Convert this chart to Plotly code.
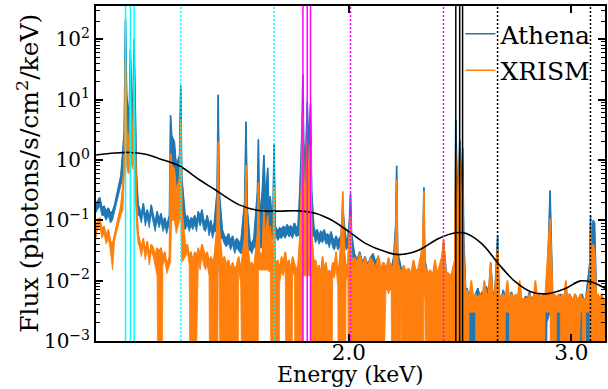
import numpy as np
import plotly.graph_objects as go

# ---------------- data ----------------
energy_keV = [
    1.260, 1.265, 1.270, 1.275, 1.280, 1.285, 1.290, 1.295, 1.300, 1.305, 1.310, 1.315, 1.320,
    1.325, 1.328, 1.331, 1.334, 1.337, 1.340, 1.343, 1.346, 1.349, 1.352, 1.355, 1.358, 1.362,
    1.365, 1.370, 1.375, 1.380, 1.385, 1.390, 1.395, 1.400, 1.405, 1.410, 1.415, 1.420, 1.425, 1.430, 1.435, 1.442,
    1.445, 1.448, 1.455, 1.460, 1.469, 1.472, 1.475, 1.485, 1.490, 1.495, 1.500,
    1.505, 1.510, 1.515, 1.520, 1.525, 1.530, 1.535, 1.540, 1.545, 1.550,
    1.555, 1.560, 1.565, 1.573, 1.576, 1.579, 1.588, 1.594, 1.600, 1.606,
    1.612, 1.618, 1.624, 1.630, 1.636, 1.642, 1.654, 1.658, 1.662, 1.670,
    1.676, 1.682, 1.693, 1.696, 1.699, 1.708, 1.713, 1.718, 1.725, 1.729,
    1.733, 1.741, 1.745, 1.749, 1.757, 1.763, 1.769, 1.775, 1.781, 1.787,
    1.793, 1.799, 1.805, 1.811, 1.817, 1.823, 1.829, 1.836, 1.839, 1.842,
    1.848, 1.854, 1.858, 1.865, 1.869, 1.876, 1.882, 1.888, 1.894, 1.900,
    1.906, 1.912, 1.918, 1.924, 1.930, 1.936, 1.942, 1.948, 1.954, 1.960,
    1.966, 1.972, 1.978, 1.984, 1.990, 1.996, 2.002, 2.006, 2.010,
    2.02, 2.03, 2.04, 2.05, 2.06, 2.07, 2.08, 2.09, 2.10, 2.11,
    2.12, 2.13, 2.14, 2.15, 2.16, 2.17, 2.178, 2.182, 2.186, 2.20,
    2.21, 2.22, 2.23, 2.24, 2.25, 2.26, 2.27, 2.289, 2.293, 2.297,
    2.31, 2.32, 2.33, 2.34, 2.35, 2.36, 2.37, 2.377, 2.385, 2.39,
    2.40, 2.41, 2.426, 2.430, 2.436, 2.442, 2.448, 2.454, 2.461, 2.466,
    2.475, 2.48, 2.49, 2.50, 2.51, 2.52, 2.53, 2.54, 2.55, 2.56,
    2.57, 2.58, 2.59, 2.60, 2.61, 2.623, 2.63, 2.64, 2.65, 2.66,
    2.67, 2.68, 2.69, 2.70, 2.71, 2.72, 2.73, 2.74, 2.75, 2.76,
    2.77, 2.78, 2.79, 2.80, 2.81, 2.82, 2.83, 2.84, 2.85, 2.86,
    2.87, 2.886, 2.90, 2.91, 2.92, 2.93, 2.94, 2.95, 2.96, 2.97,
    2.98, 2.99, 3.00, 3.01, 3.02, 3.03, 3.04, 3.05, 3.06, 3.07,
    3.08, 3.103, 3.107, 3.111, 3.122, 3.13, 3.14, 3.15, 3.16, 3.17,
    3.18, 3.19,
]

# Athena: upper / lower envelope of the (densely channelled) spectrum
athena_high = [
    .18, .21, .24, .16, .17, .14, .16, .13, .14, .18, .27, .38, .55,
    1.5, 3, 214, 12, 7, 4, 66, 9, 5, 100, 8, .6, .18,
    .16, .12, .19, .11, .15, .10, .18, .12, .09, .14, .10, .13, .09, .11, .08, .12,
    5.5, 2.5, 2, .8, 1.2, 17, .5, .10, .12, .09, .11,
    .10, .12, .09, .14, .11, .15, .10, .09, .12, .08,
    .10, .07, .09, .3, 12, .3, .07, .055, .05, .06,
    .045, .055, .04, .05, .045, .04, .2, 4.3, .15, .045,
    .04, .05, .3, 2.2, .1, .3, 1.2, .2, .74, .1,
    .25, .07, 1.8, .08, .065, .075, .07, .08, .07, .085,
    .075, .08, .07, .09, .075, .08, .3, 3, 26, 2,
    .8, 9.2, 1.5, 8.5, .3, .08, .06, .07, .055, .065,
    .06, .07, .055, .06, .05, .065, .05, .045, .055, .045,
    .05, .055, .15, .07, .045, .05, .1, .28, .06,
    .028, .022, .03, .02, .025, .018, .024, .028, .02, .025,
    .012, .02, .016, .022, .015, .024, .08, .8, .03, .016,
    .014, .011, .015, .012, .014, .01, .013, .03, .35, .022,
    .012, .014, .011, .015, .012, .016, .022, .045, .015, .011,
    .012, .01, .018, 4.6, .5, .3, 2.1, .3, 1.58, .05,
    .0065, .0075, .0055, .0065, .005, .006, .0075, .0055, .0065, .0055,
    .008, .0055, .02, .006, .0065, .056, .0055, .005, .007, .005,
    .0055, .005, .0065, .005, .0055, .0045, .006, .005, .0045, .0055,
    .005, .0065, .0045, .0055, .005, .0045, .0055, .005, .006, .005,
    .006, .31, .005, .0055, .0045, .005, .006, .0045, .0055, .005,
    .0045, .006, .005, .0045, .006, .005, .0045, .005, .006, .0045,
    .005, .02, .12, .03, .1, .09, .006, .005, .0045, .005,
    .0045, .005,
]
athena_low = [
    .13, .15, .17, .12, .12, .10, .12, .09, .10, .13, .19, .27, .38,
    .5, 1.5, 3, 2, 1.5, 1.5, 3, 2, 2, 3, 1, .2, .12,
    .12, .09, .14, .08, .11, .075, .13, .09, .065, .10, .075, .095, .065, .08, .06, .09,
    .1, .3, .3, .2, .3, .3, .08, .07, .085, .065, .08,
    .07, .085, .065, .10, .08, .10, .07, .065, .085, .055,
    .07, .05, .065, .065, .065, .05, .05, .04, .036, .042,
    .032, .04, .028, .035, .032, .028, .03, .03, .03, .032,
    .028, .035, .035, .035, .035, .035, .035, .035, .035, .035,
    .04, .05, .05, .056, .046, .052, .05, .056, .05, .06,
    .053, .056, .05, .063, .053, .056, .056, .056, .056, .056,
    .05, .05, .05, .05, .05, .056, .042, .05, .04, .046,
    .042, .05, .04, .042, .035, .046, .035, .032, .04, .032,
    .035, .04, .04, .045, .032, .035, .035, .035, .035,
    .012, .01, .014, .008, .011, .007, .01, .012, .008, .011,
    .0045, .009, .007, .01, .007, .01, .01, .012, .009, .008,
    .006, .005, .007, .006, .006, .005, .006, .007, .008, .007,
    .005, .006, .005, .007, .005, .006, .007, .009, .006, .005,
    .005, .003, .006, .006, .006, .006, .006, .006, .006, .005,
    .002, .003, 0, .002, 0, .002, .003, .002, .002, .002,
    .003, .002, .002, .002, .002, .003, .002, .002, .002, 0,
    0, .002, .002, .002, .002, .0015, .002, .002, 0, .002,
    .002, .002, .0015, .002, .002, 0, .002, .002, .002, 0,
    .002, .003, .002, .002, 0, .002, 0, .002, .002, .002,
    .0015, .002, .002, .0015, .002, .002, 0, .002, 0, .002,
    .002, 0, .003, .002, .003, .003, .002, .002, 0, .002,
    .002, .002,
]

# XRISM: upper / lower envelope (0 = empty channels, drawn below the axis)
xrism_high = [
    .06, .10, .11, .07, .08, .055, .07, .045, .04, .06, .09, .12, .17,
    .4, 1, 45, 3, 2.5, 1.5, 21, 3, 2, 21, 2, .2, .06,
    .05, .035, .05, .03, .045, .025, .04, .035, .025, .035, .03, .035, .025, .03, .018, .025,
    1.3, .8, .7, .3, .5, 4.3, .15, .035, .04, .025, .03,
    .02, .03, .025, .035, .025, .04, .03, .025, .03, .02,
    .025, .02, .025, .08, 2.0, .08, .02, .025, .018, .022,
    .015, .02, .015, .018, .025, .015, .05, .82, .04, .018,
    .02, .015, .06, .42, .03, .025, .15, .04, .12, .025,
    .08, .02, .35, .018, .022, .015, .025, .02, .03, .018,
    .022, .015, .025, .02, .015, .018, .05, .6, 5.9, .5,
    .2, 2.1, .4, 1.8, .06, .02, .022, .015, .018, .012,
    .025, .015, .02, .012, .015, .012, .02, .018, .03, .012,
    .02, .05, .3, .03, .015, .02, .05, .12, .02,
    .024, .02, .028, .018, .024, .016, .024, .02, .016, .026,
    .016, .02, .015, .024, .016, .018, .05, .46, .02, .013,
    .018, .014, .016, .013, .022, .014, .016, .04, .3, .018,
    .013, .015, .012, .022, .013, .018, .025, .047, .015, .014,
    .013, .012, .022, 1.5, .2, .15, 1.1, .1, .52, .02,
    .006, .007, .005, .01, .005, .006, .005, .006, .005, .01,
    .006, .006, .02, .005, .006, .036, .006, .005, .006, .005,
    .01, .005, .006, .005, .006, .005, .01, .005, .005, .005,
    .005, .006, .005, .005, .01, .005, .006, .005, .006, .005,
    .015, .107, .005, .006, .005, .006, .005, .006, .005, .01,
    .005, .006, .005, .005, .006, .005, .005, .006, .005, .005,
    .005, .01, .069, .02, .04, .03, .005, .006, .005, .006,
    .005, .005,
]
xrism_low = [
    .045, .07, .08, .05, .06, .04, .05, .03, .015, .045, .065, .09, .12,
    .15, .5, 1, .8, .6, .6, 1, .8, .7, 1, .4, .08, .04,
    .037, .025, .037, .022, .033, .018, .03, .025, .018, .012, 0, 0, .018, .022, .013, .018,
    .02, .1, .1, .06, .1, .1, .02, .025, .03, .018, 0,
    0, 0, 0, .02, .015, .025, .018, .015, .018, .012,
    0, 0, 0, 0, .02, .012, 0, 0, 0, 0,
    0, 0, 0, 0, .015, .009, 0, 0, 0, 0,
    0, 0, 0, .015, .015, .015, .015, .015, .015, .014,
    .014, 0, 0, 0, 0, .009, .014, .012, .016, 0,
    0, 0, .014, .012, 0, 0, 0, 0, .012, .012,
    .012, .012, .012, .012, 0, 0, 0, 0, 0, 0,
    0, 0, 0, 0, 0, 0, .012, .011, .016, .008,
    0, 0, 0, 0, .01, .012, 0, 0, 0,
    0, 0, 0, 0, 0, 0, 0, 0, 0, 0,
    0, 0, .008, .006, .008, 0, 0, .01, 0, .006,
    0, 0, 0, 0, 0, 0, 0, 0, .006, .005,
    0, 0, 0, 0, 0, 0, 0, 0, 0, 0,
    0, 0, 0, 0, 0, 0, 0, 0, 0, 0,
    0, 0, .003, .003, .003, .003, 0, 0, 0, 0,
    0, 0, 0, 0, 0, 0, 0, 0, 0, .003,
    .003, .003, 0, 0, 0, 0, 0, 0, 0, 0,
    0, 0, 0, 0, 0, 0, 0, 0, 0, .003,
    .003, .003, 0, 0, .003, .003, .003, 0, 0, 0,
    0, 0, 0, 0, 0, 0, 0, .003, .003, 0,
    .003, .003, 0, 0, 0, 0, 0, 0, 0, 0,
    0, 0,
]

# smooth black curve
model_energy = [1.26, 1.305, 1.341, 1.378, 1.416, 1.468, 1.523, 1.564, 1.638, 1.698,
                1.761, 1.826, 1.884, 1.939, 2.0, 2.063, 2.139, 2.19, 2.271, 2.356,
                2.43, 2.474, 2.548, 2.627, 2.71, 2.789, 2.877, 2.968, 3.05, 3.111, 3.19]
model_flux = [1.2, 1.3, 1.33, 1.25, 1.05, 0.8, 0.47, 0.33, 0.18, 0.145,
              0.142, 0.143, 0.13, 0.10, 0.065, 0.041, 0.030, 0.027, 0.032, 0.050,
              0.062, 0.061, 0.041, 0.019, 0.0095, 0.0065, 0.0061, 0.0074, 0.0099, 0.0095, 0.0075]

# line markers (keV)
mg_triplet = [1.3311, 1.3431, 1.3522]
mg_lyman = [1.4723, 1.7450]
si_triplet = [1.8394, 1.8538, 1.8650]
si_lyman = [2.0061, 2.3765]
s_triplet = [2.4304, 2.4476, 2.4606]
s_lyman = [2.6227, 3.1066]

x_tick_vals = [2.0, 3.0]
x_tick_text = ["2.0", "3.0"]
y_tick_vals = [1e-3, 1e-2, 1e-1, 1e0, 1e1, 1e2]
y_tick_text = ["10<sup>\u22123</sup>", "10<sup>\u22122</sup>", "10<sup>\u22121</sup>",
               "10<sup>0</sup>", "10<sup>1</sup>", "10<sup>2</sup>"]

X_RANGE = [1.2614, 3.19]
Y_RANGE_LOG = [-3, 2.55]
FLOOR = 1e-8  # empty channels are drawn off the bottom of the log axis

BLUE = "#1f77b4"
ORANGE = "#ff7f0e"
FONT = "DejaVu Serif"

# ---------------- figure ----------------
fig = go.Figure()
E = np.array(energy_keV)


def add_band(high, low, color, name):
    hi = np.array(high, dtype=float)
    lo = np.array(low, dtype=float)
    lo = np.where(lo > 0, lo, FLOOR)
    fig.add_trace(go.Scatter(
        x=np.concatenate([E, E[::-1]]), y=np.concatenate([hi, lo[::-1]]),
        mode="lines", fill="toself", fillcolor=color,
        line=dict(color=color, width=0.8), showlegend=False, hoverinfo="skip"))
    fig.add_trace(go.Scatter(
        x=E, y=hi, mode="lines", name=name, legendgroup=name,
        line=dict(color=color, width=1.6)))


add_band(athena_high, athena_low, BLUE, "Athena")
add_band(xrism_high, xrism_low, ORANGE, "XRISM")

fig.add_trace(go.Scatter(x=model_energy, y=model_flux, mode="lines",
                         line=dict(color="black", width=1.6, shape="spline"),
                         showlegend=False))

for group, color, dash in [(mg_triplet, "#00ffff", "solid"), (mg_lyman, "#00ffff", "2px,2px"),
                           (si_triplet, "#ff00ff", "solid"), (si_lyman, "#ff00ff", "2px,2px"),
                           (s_triplet, "black", "solid"), (s_lyman, "black", "2px,2px")]:
    for e in group:
        fig.add_vline(x=e, line=dict(color=color, width=1.5, dash=dash))

axis_common = dict(showline=True, linecolor="black", linewidth=2, mirror="ticks",
                   ticks="inside", ticklen=7, tickwidth=1.5, tickcolor="black",
                   showgrid=False, zeroline=False)

fig.update_xaxes(type="log", range=[np.log10(X_RANGE[0]), np.log10(X_RANGE[1])],
                 tickmode="array", tickvals=x_tick_vals, ticktext=x_tick_text,
                 tickfont=dict(size=21.5), ticklabelstandoff=-9, **axis_common)

minor_vals = [m * 10.0 ** k for k in range(-3, 3) for m in range(2, 10)]
fig.update_yaxes(type="log", range=Y_RANGE_LOG,
                 tickmode="array", tickvals=y_tick_vals, ticktext=y_tick_text,
                 minor=dict(ticks="inside", ticklen=4, tickwidth=1, tickcolor="black",
                            tickmode="array", tickvals=minor_vals, showgrid=False),
                 tickfont=dict(size=20), **axis_common)

fig.update_layout(
    width=608, height=389,
    margin=dict(l=96, r=1, t=6, b=48),
    paper_bgcolor="white", plot_bgcolor="white",
    font=dict(family=FONT, color="black", size=22),
    legend=dict(x=0.716, y=0.985, xanchor="left", yanchor="top",
                bgcolor="rgba(0,0,0,0)", borderwidth=0, tracegroupgap=1,
                font=dict(size=25)),
    showlegend=True,
    annotations=[
        dict(text="Energy (keV)", xref="paper", yref="paper", x=0.5, y=-0.142,
             xanchor="center", yanchor="bottom", showarrow=False, font=dict(size=22)),
        dict(text="Flux (photons/s/cm<sup>2</sup>/keV)", xref="paper", yref="paper",
             x=-0.133, y=0.5, xanchor="center", yanchor="middle", textangle=-90,
             showarrow=False, font=dict(size=25)),
    ],
)

fig.write_html("out.html")
